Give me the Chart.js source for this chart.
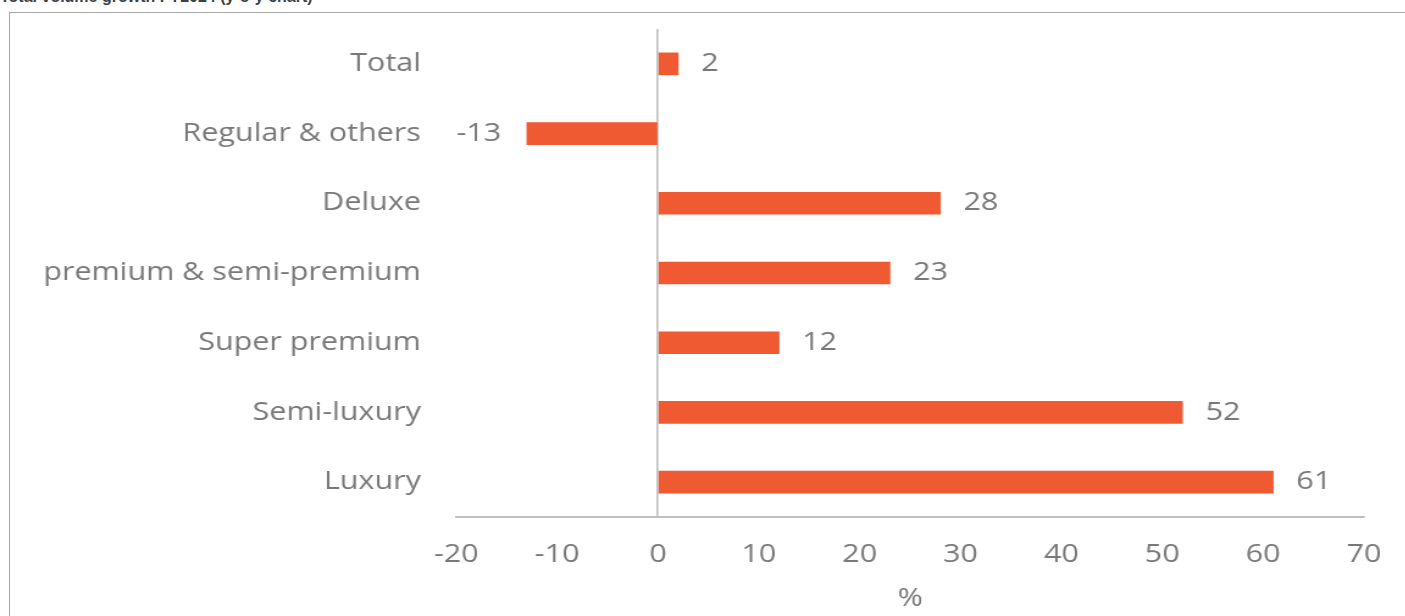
<!DOCTYPE html>
<html>
<head>
<meta charset="utf-8">
<script src="https://cdn.jsdelivr.net/npm/chart.js@4.4.1/dist/chart.umd.min.js"></script>
<style>
    html, body { margin: 0; padding: 0; background: #fff; overflow: hidden; }
    body { width: 1405px; height: 616px; position: relative; font-family: "Open Sans", sans-serif; }
    .title {
        position: absolute; left: 0; top: -12px;
        font: bold 16px "Liberation Sans", sans-serif; color: #404040; white-space: nowrap;
    }
    .frame {
        position: absolute; left: 9px; top: 12px; width: 1420px; height: 640px;
        border: 1px solid #a6a6a6;
    }
    /* the source picture is stretched sideways, so the canvas is too */
    .wrap {
        position: absolute; left: 0; top: 0; width: 1152px; height: 616px;
        transform: scaleX(1.22); transform-origin: 0 0;
    }
</style>
</head>
<body>
<div class="title">Total volume growth FY2024 (y-o-y chart)</div>
<div class="frame"></div>
<div class="wrap"><canvas id="growthChart"></canvas></div>
<script>
// Data
const categories = ['Total', 'Regular & others', 'Deluxe', 'premium & semi-premium', 'Super premium', 'Semi-luxury', 'Luxury'];
const growth = [2, -13, 28, 23, 12, 52, 61];
const axisMin = -20;
const axisMax = 70;
const axisStep = 10;
const axisTitle = '%';

const barColor = '#f05a33';
const textColor = '#787878';
const lineColor = '#c0c0c0';
const fontSize = 25;

// Value labels next to each bar end
const valueLabels = {
    id: 'valueLabels',
    afterDatasetsDraw(chart) {
        const ctx = chart.ctx;
        const meta = chart.getDatasetMeta(0);
        ctx.save();
        ctx.font = fontSize + 'px "Open Sans"';
        ctx.fillStyle = textColor;
        ctx.textBaseline = 'middle';
        meta.data.forEach((bar, i) => {
            const v = growth[i];
            if (v >= 0) {
                ctx.textAlign = 'left';
                ctx.fillText(String(v), bar.x + 19, bar.y);
            } else {
                ctx.textAlign = 'right';
                ctx.fillText(String(v), bar.x - 21, bar.y);
            }
        });
        ctx.restore();
    }
};

Chart.defaults.font.family = '"Open Sans", sans-serif';
Chart.defaults.color = textColor;

const ctx = document.getElementById('growthChart').getContext('2d');
new Chart(ctx, {
    type: 'bar',
    data: {
        labels: categories,
        datasets: [{
            data: growth,
            backgroundColor: barColor,
            borderWidth: 0,
            barThickness: 22
        }]
    },
    options: {
        indexAxis: 'y',
        responsive: true,
        maintainAspectRatio: false,
        animation: false,
        layout: { padding: { top: 29, right: 34, bottom: 0, left: 0 } },
        plugins: {
            legend: { display: false },
            tooltip: { enabled: false }
        },
        scales: {
            x: {
                min: axisMin,
                max: axisMax,
                ticks: {
                    stepSize: axisStep,
                    padding: 23,
                    font: { size: fontSize },
                    color: textColor
                },
                grid: {
                    drawTicks: false,
                    lineWidth: 1.7,
                    color: c => (c.tick && c.tick.value === 0 ? lineColor : 'rgba(0,0,0,0)')
                },
                border: { display: true, color: lineColor, width: 2 },
                title: {
                    display: true,
                    text: axisTitle,
                    font: { size: fontSize },
                    color: textColor,
                    padding: { top: 0, bottom: 2 }
                },
                afterFit(scale) {
                    scale.height = 99;
                    scale.paddingLeft = 0;
                    scale.paddingRight = 0;
                }
            },
            y: {
                ticks: {
                    padding: 29,
                    font: { size: fontSize },
                    color: textColor
                },
                grid: { display: false, drawTicks: false },
                border: { display: false },
                afterFit(scale) {
                    scale.width = 374;
                    scale.paddingTop = 0;
                    scale.paddingBottom = 0;
                }
            }
        }
    },
    plugins: [valueLabels]
});
</script>
</body>
</html>
